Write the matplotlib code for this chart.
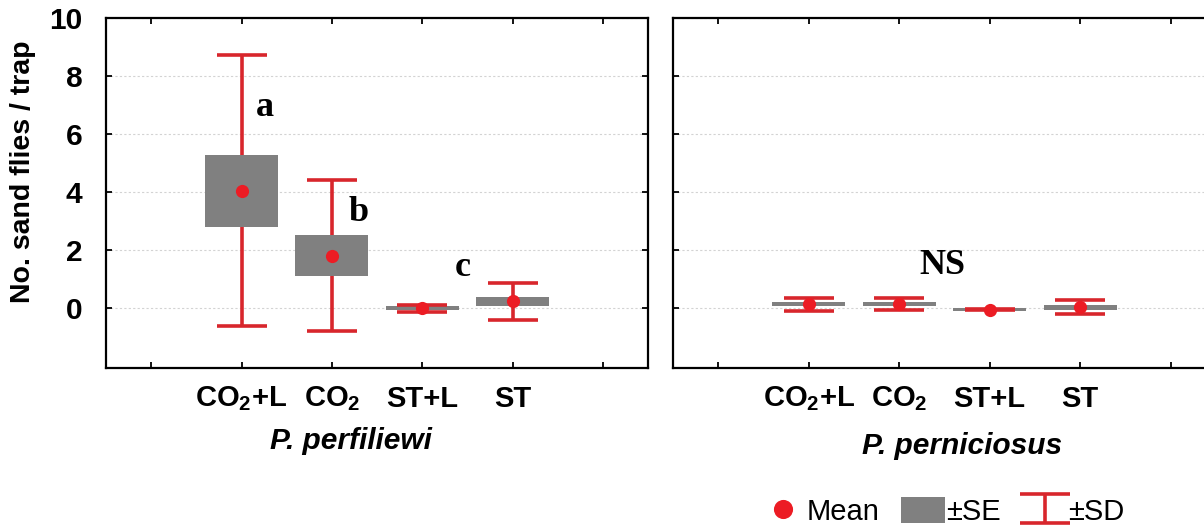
"""
plot.py
Sand fly catches per trap for two Phlebotomus species,
mean with +-SE box and +-SD whiskers.
"""

import numpy as np
import matplotlib
matplotlib.use("Agg")
import matplotlib.pyplot as plt

plt.rcParams["font.family"] = ["Liberation Sans", "DejaVu Sans"]
plt.rcParams["mathtext.fontset"] = "custom"
plt.rcParams["mathtext.rm"] = "Liberation Sans"
plt.rcParams["mathtext.bf"] = "Liberation Sans:bold"

# data
treatments = [r"CO$_\mathbf{2}$+L", r"CO$_\mathbf{2}$", "ST+L", "ST"]

perf_mean = [4.05, 1.82, 0.00, 0.24]
perf_se = [1.25, 0.70, 0.07, 0.17]
perf_sd = [4.67, 2.61, 0.13, 0.64]

pern_mean = [0.14, 0.15, -0.04, 0.04]
pern_se = [0.07, 0.06, 0.04, 0.08]
pern_sd = [0.22, 0.22, 0.02, 0.24]

perf_letters = ["a", "b", "c"]
perf_letter_x = [1.26, 2.30, 3.45]
perf_letter_y = [6.63, 3.02, 1.13]

RED = "#d8262c"
DOT = "#ec1c24"
GRAY = "#808080"
SERIF = ["Liberation Serif", "DejaVu Serif"]

W, H = 1204, 525


def draw_panel(ax, mean, se, sd):
    mean = np.array(mean)
    se = np.array(se)
    x = np.arange(1, len(mean) + 1)
    bars = ax.bar(x, 2 * se, bottom=mean - se, width=0.81, color=GRAY,
                  zorder=3, label="±SE")
    eb = ax.errorbar(x, mean, yerr=sd, fmt="none", ecolor=RED,
                     elinewidth=2.6, capsize=18, capthick=2.6, zorder=2,
                     label="±SD")
    for cap in eb[1]:
        cap.set_zorder(4)
    dots, = ax.plot(x, mean, "o", color=DOT, ms=9.5, mec="none", zorder=5,
                    label="Mean")

    ax.set_xlim(-0.5, 5.5)
    ax.set_ylim(-2.05, 10)
    ax.set_xticks(range(0, 6))
    ax.set_xticklabels([""] + treatments + [""], fontsize=21,
                       fontweight="bold")
    ax.set_yticks([0, 2, 4, 6, 8, 10])
    ax.tick_params(direction="in", top=True, right=True, length=4,
                   width=1.3)
    ax.tick_params(axis="x", pad=12)
    ax.tick_params(axis="y", pad=17, labelsize=21.5)
    for lab in ax.get_yticklabels():
        lab.set_fontweight("bold")
    ax.yaxis.grid(True, color="#d3d3d3", linestyle=(0, (2, 2)),
                  linewidth=0.8)
    ax.set_axisbelow(True)
    for sp in ax.spines.values():
        sp.set_linewidth(1.6)
    return dots, bars, eb


def main():
    fig = plt.figure(figsize=(W / 100, H / 100), dpi=100)
    bottom = 1 - 368 / H
    height = (368 - 18) / H
    ax1 = fig.add_axes([106 / W, bottom, (648 - 106) / W, height])
    ax2 = fig.add_axes([673 / W, bottom, (1216 - 673) / W, height])

    dots, bars, eb = draw_panel(ax1, perf_mean, perf_se, perf_sd)
    draw_panel(ax2, pern_mean, pern_se, pern_sd)
    ax2.tick_params(labelleft=False)

    for s, x, y in zip(perf_letters, perf_letter_x, perf_letter_y):
        ax1.text(x, y, s, family=SERIF, fontweight="bold", fontsize=26,
                 ha="center", va="baseline")
    ax2.text(2.48, 1.20, "NS", family=SERIF, fontweight="bold",
             fontsize=26, ha="center", va="baseline")

    fig.text(23 / W, 1 - 172 / H, "No. sand flies / trap", rotation=90,
             ha="center", va="center", fontsize=20.5, fontweight="bold")
    fig.text(351 / W, 1 - 449 / H, "P. perfiliewi", style="italic",
             fontweight="bold", fontsize=21.5, ha="center", va="baseline")
    fig.text(962 / W, 1 - 454 / H, "P. perniciosus", style="italic",
             fontweight="bold", fontsize=21.5, ha="center", va="baseline")

    fig.legend([dots, bars, eb], ["Mean", "±SE", "±SD"], loc="lower left",
               bbox_to_anchor=(761 / W, -0.002), ncol=3, frameon=False,
               fontsize=21, handlelength=1.5, handleheight=0.95,
               handletextpad=0.05, columnspacing=0.75, borderpad=0,
               borderaxespad=0, markerscale=1.45)

    fig.savefig("out.png", dpi=100)
    plt.close(fig)


if __name__ == "__main__":
    main()
